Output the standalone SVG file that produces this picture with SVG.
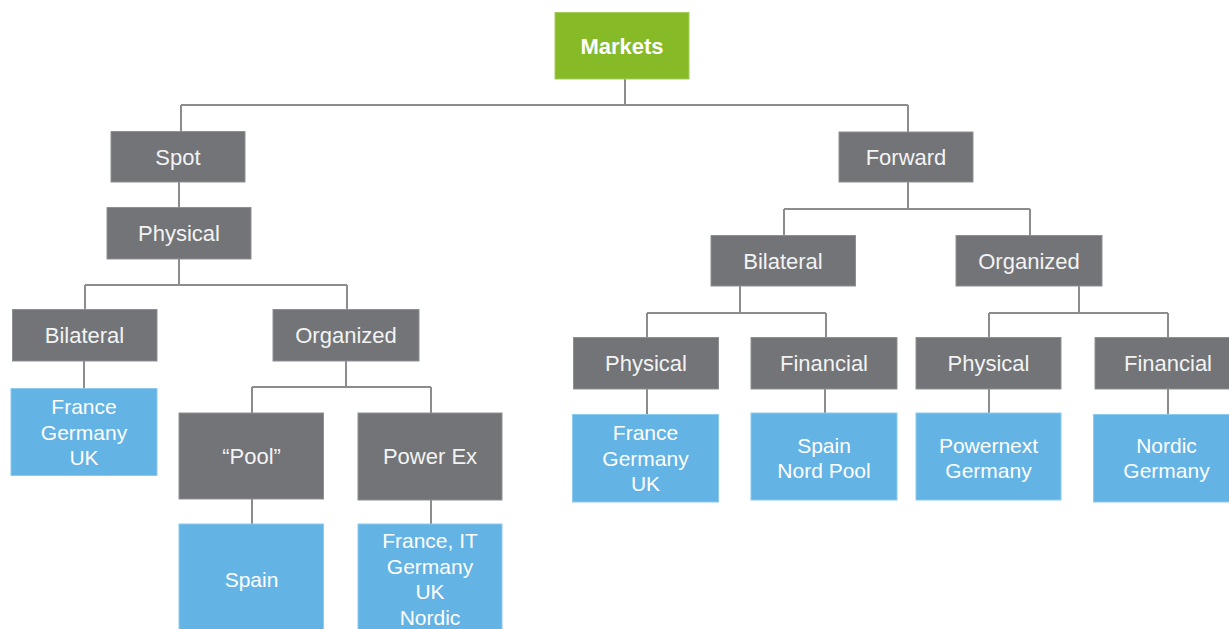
<svg xmlns="http://www.w3.org/2000/svg" width="1229" height="629" viewBox="0 0 1229 629">
  <style>
    .root { fill: #86bb27; stroke: #a3cd5a; stroke-width: 1; }
    .cat { fill: #727477; stroke: #8d8f92; stroke-width: 1; }
    .leaf { fill: #63b3e4; stroke: #8ccaef; stroke-width: 1; }
    text { font-family: "Liberation Sans", Arial, sans-serif; text-anchor: middle; }
    .t-root { fill: #ffffff; font-size: 22px; font-weight: bold; }
    .t-cat { fill: #f3f3f3; font-size: 22px; }
    .t-leaf { fill: #ffffff; font-size: 21px; }
    .conn { fill: none; stroke: #8c8c8c; stroke-width: 2; }
  </style>
  <rect width="1229" height="629" fill="#ffffff"/>

  <!-- connectors -->
  <g id="connectors" class="conn">
    <path d="M625 79 V105 M181 105 H908 M181 105 V131 M908 105 V132"/>
    <path d="M179 182 V207"/>
    <path d="M179 259 V285 M85 285 H347 M85 285 V310 M347 285 V310"/>
    <path d="M84 361 V388"/>
    <path d="M346 361 V387 M252 387 H431 M252 387 V413 M431 387 V413"/>
    <path d="M252 499 V524 M431 500 V524"/>
    <path d="M908 182 V209 M784 209 H1030 M784 209 V236 M1030 209 V236"/>
    <path d="M740 286 V313 M647 313 H826 M647 313 V337 M826 313 V337"/>
    <path d="M1079 286 V313 M989 313 H1168 M989 313 V337 M1168 313 V337"/>
    <path d="M647 389 V414 M825 389 V413 M989 389 V413 M1168 389 V414"/>
  </g>

  <!-- root -->
  <g id="markets">
    <rect class="root" x="555" y="12.5" width="134" height="66.5"/>
    <text class="t-root" x="622" y="53.5">Markets</text>
  </g>

  <!-- spot branch -->
  <g id="spot">
    <rect class="cat" x="111" y="131.5" width="134" height="50.5"/>
    <text class="t-cat" x="178" y="165">Spot</text>
  </g>
  <g id="spot-physical">
    <rect class="cat" x="107" y="207.5" width="144" height="51.5"/>
    <text class="t-cat" x="179" y="241">Physical</text>
  </g>
  <g id="spot-bilateral">
    <rect class="cat" x="12.5" y="309.5" width="144.5" height="51.5"/>
    <text class="t-cat" x="84.5" y="343">Bilateral</text>
  </g>
  <g id="spot-bilateral-markets">
    <rect class="leaf" x="11" y="388.5" width="146" height="87"/>
    <text class="t-leaf" x="84" y="414">France</text>
    <text class="t-leaf" x="84" y="439.5">Germany</text>
    <text class="t-leaf" x="84" y="465">UK</text>
  </g>
  <g id="spot-organized">
    <rect class="cat" x="273" y="309.5" width="146" height="51.5"/>
    <text class="t-cat" x="346" y="343">Organized</text>
  </g>
  <g id="pool">
    <rect class="cat" x="179" y="413" width="144.5" height="86"/>
    <text class="t-cat" x="251.5" y="464">“Pool”</text>
  </g>
  <g id="pool-markets">
    <rect class="leaf" x="179" y="524" width="144.5" height="110"/>
    <text class="t-leaf" x="251.5" y="587">Spain</text>
  </g>
  <g id="power-ex">
    <rect class="cat" x="358" y="413" width="144" height="87"/>
    <text class="t-cat" x="430" y="464">Power Ex</text>
  </g>
  <g id="power-ex-markets">
    <rect class="leaf" x="358" y="524" width="144" height="110"/>
    <text class="t-leaf" x="430" y="548">France, IT</text>
    <text class="t-leaf" x="430" y="573.5">Germany</text>
    <text class="t-leaf" x="430" y="599">UK</text>
    <text class="t-leaf" x="430" y="625">Nordic</text>
  </g>

  <!-- forward branch -->
  <g id="forward">
    <rect class="cat" x="839" y="132" width="134" height="50"/>
    <text class="t-cat" x="906" y="165">Forward</text>
  </g>
  <g id="forward-bilateral">
    <rect class="cat" x="711" y="235.5" width="144.5" height="50.5"/>
    <text class="t-cat" x="783" y="269">Bilateral</text>
  </g>
  <g id="forward-organized">
    <rect class="cat" x="956" y="235.5" width="146" height="50.5"/>
    <text class="t-cat" x="1029" y="269">Organized</text>
  </g>
  <g id="fb-physical">
    <rect class="cat" x="573.5" y="337.5" width="145" height="51.5"/>
    <text class="t-cat" x="646" y="371">Physical</text>
  </g>
  <g id="fb-physical-markets">
    <rect class="leaf" x="572.5" y="414.5" width="146" height="87.5"/>
    <text class="t-leaf" x="645.5" y="440">France</text>
    <text class="t-leaf" x="645.5" y="465.5">Germany</text>
    <text class="t-leaf" x="645.5" y="491">UK</text>
  </g>
  <g id="fb-financial">
    <rect class="cat" x="751" y="337.5" width="146" height="51.5"/>
    <text class="t-cat" x="824" y="371">Financial</text>
  </g>
  <g id="fb-financial-markets">
    <rect class="leaf" x="751" y="413" width="146" height="87"/>
    <text class="t-leaf" x="824" y="453">Spain</text>
    <text class="t-leaf" x="824" y="477.5">Nord Pool</text>
  </g>
  <g id="fo-physical">
    <rect class="cat" x="916" y="337.5" width="145" height="51.5"/>
    <text class="t-cat" x="988.5" y="371">Physical</text>
  </g>
  <g id="fo-physical-markets">
    <rect class="leaf" x="916" y="413" width="145" height="87"/>
    <text class="t-leaf" x="988.5" y="453">Powernext</text>
    <text class="t-leaf" x="988.5" y="477.5">Germany</text>
  </g>
  <g id="fo-financial">
    <rect class="cat" x="1095" y="337.5" width="146" height="51.5"/>
    <text class="t-cat" x="1168" y="371">Financial</text>
  </g>
  <g id="fo-financial-markets">
    <rect class="leaf" x="1093.5" y="414.5" width="146" height="87.5"/>
    <text class="t-leaf" x="1166.5" y="453">Nordic</text>
    <text class="t-leaf" x="1166.5" y="477.5">Germany</text>
  </g>
</svg>
